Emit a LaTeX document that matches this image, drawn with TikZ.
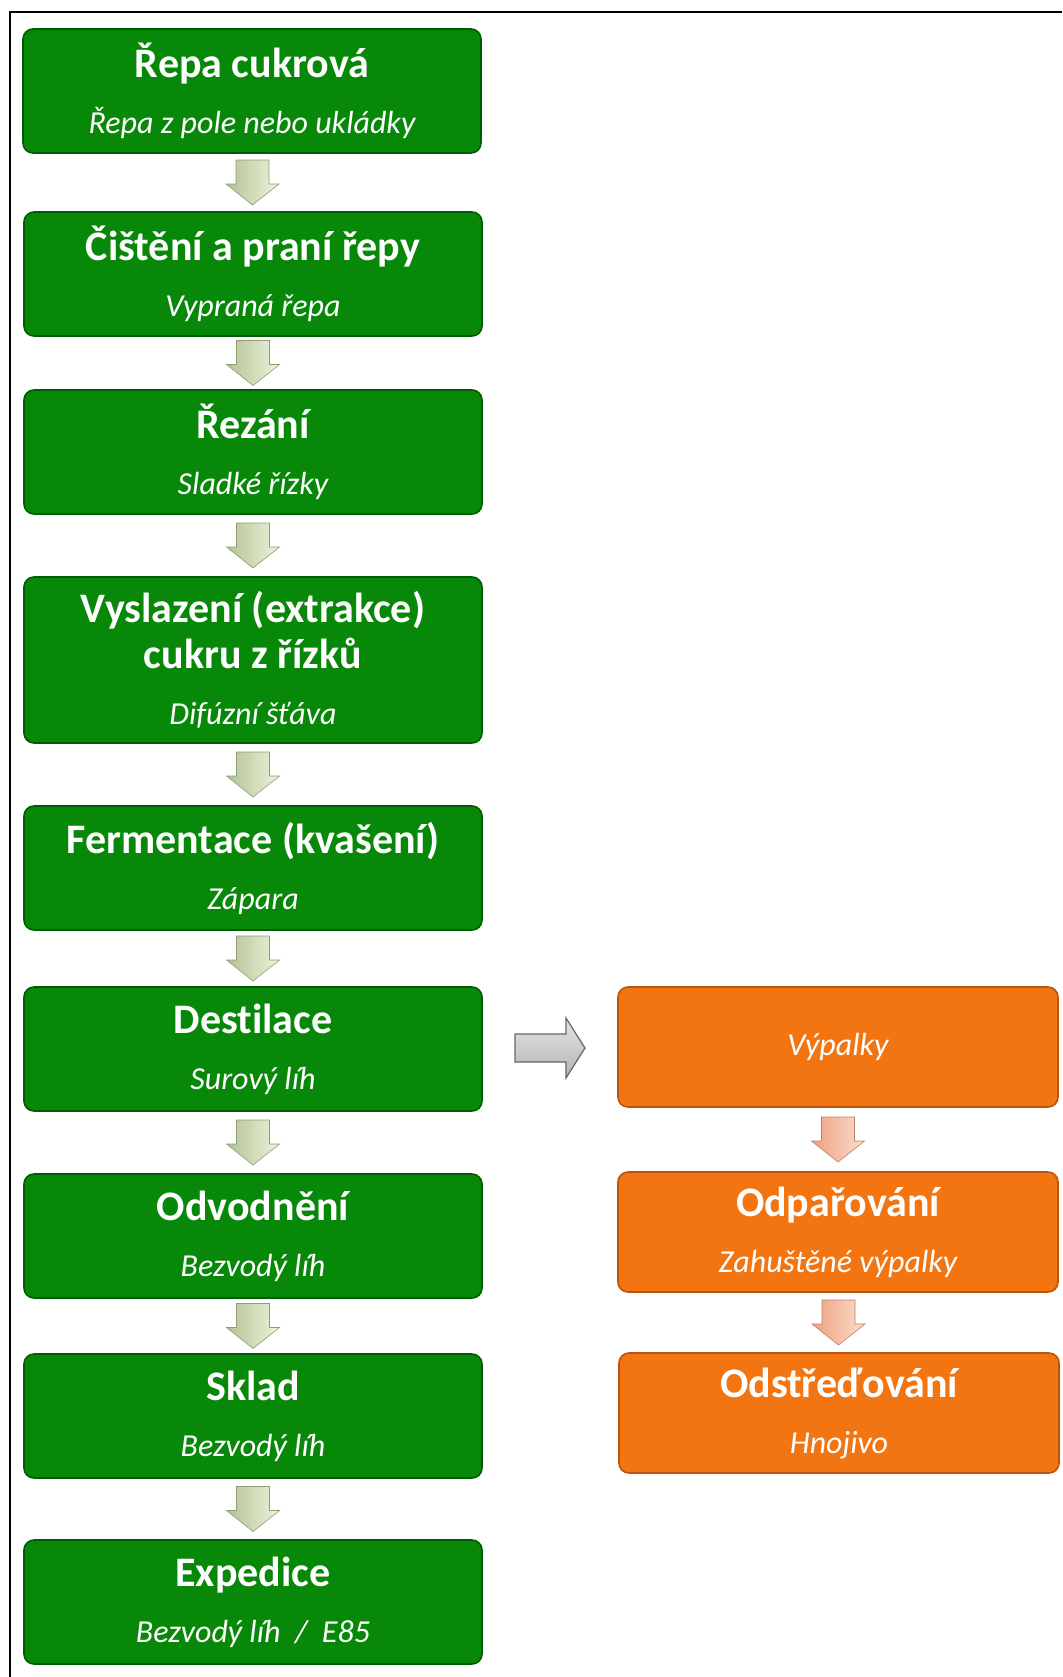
\documentclass[tikz,border=0pt]{standalone}
\usepackage{fontspec}
\setmainfont{Carlito}[Ligatures=NoCommon]
\usetikzlibrary{calc}

\definecolor{boxgreen}{RGB}{8,136,8}
\definecolor{boxgreenedge}{RGB}{0,92,0}
\definecolor{boxorange}{RGB}{242,117,17}
\definecolor{boxorangeedge}{RGB}{185,85,15}
\definecolor{arrgreenL}{RGB}{178,194,148}
\definecolor{arrgreenR}{RGB}{238,244,220}
\definecolor{arrorangeL}{RGB}{236,160,128}
\definecolor{arrorangeR}{RGB}{253,222,204}

\newcommand{\ttl}[1]{{\fontsize{21}{24}\selectfont\bfseries #1}}
\newcommand{\sub}[1]{{\itshape #1}}

\tikzset{
    stagebox/.style={rectangle, rounded corners=5pt, line width=0.8pt, text=white,
        align=center, minimum width=229pt, font=\fontsize{16}{28}\selectfont},
    greenbox/.style={stagebox, fill=boxgreen, draw=boxgreenedge},
    orangebox/.style={stagebox, fill=boxorange, draw=boxorangeedge, minimum width=220pt},
    downarrow/.pic={\path[pic actions] (-16.5,-22.5) -- (16.5,-22.5) -- (16.5,1.5) -- (26.5,1.5)
        -- (0,22.5) -- (-26.5,1.5) -- (-16.5,1.5) -- cycle;},
    rightarrow/.pic={\path[pic actions] (-35,-14) -- (16,-14) -- (16,-30) -- (35,0)
        -- (16,30) -- (16,14) -- (-35,14) -- cycle;},
    greenarrow/.style={left color=arrgreenL, right color=arrgreenR, draw=arrgreenL!80!black, line width=0.3pt},
    orangearrow/.style={left color=arrorangeL, right color=arrorangeR, draw=arrorangeL!80!black, line width=0.3pt},
    grayarrow/.style={top color=gray!20, bottom color=gray!60, draw=gray!80!black, line width=0.6pt}
}

\begin{document}
\begin{tikzpicture}[x=0.5pt, y=-0.5pt]
    \useasboundingbox (0,0) rectangle (1062,1677);
    % frame
    \draw[line width=1pt] (10,1677) -- (10,12) -- (1062,12);

    % main line
    \node[greenbox, minimum height=62pt] (b1) at (252,91) {\ttl{Řepa cukrová}\\ \sub{Řepa z pole nebo ukládky}};
    \node[greenbox, minimum height=62pt] (b2) at (253,274) {\ttl{Čištění a praní řepy}\\ \sub{Vypraná řepa}};
    \node[greenbox, minimum height=62pt] (b3) at (253,452) {\ttl{Řezání}\\ \sub{Sladké řízky}};
    \node[greenbox, minimum height=83pt] (b4) at (253,660) {\ttl{Vyslazení (extrakce)}\\[-5pt] \ttl{cukru z řízků}\\ \sub{Difúzní šťáva}};
    \node[greenbox, minimum height=62pt] (b5) at (253,868) {\ttl{Fermentace (kvašení)}\\ \sub{Zápara}};
    \node[greenbox, minimum height=62pt] (b6) at (253,1049) {\ttl{Destilace}\\ \sub{Surový líh}};
    \node[greenbox, minimum height=62pt] (b7) at (253,1236) {\ttl{Odvodnění}\\ \sub{Bezvodý líh}};
    \node[greenbox, minimum height=62pt] (b8) at (253,1416) {\ttl{Sklad}\\ \sub{Bezvodý líh}};
    \node[greenbox, minimum height=62pt] (b9) at (253,1602) {\ttl{Expedice}\\ \sub{Bezvodý líh \ / \ E85}};

    % side line
    \node[orangebox, minimum height=60pt] (o1) at (838,1047) {\sub{Výpalky}};
    \node[orangebox, minimum height=60pt] (o2) at (838,1232) {\ttl{Odpařování}\\ \sub{Zahuštěné výpalky}};
    \node[orangebox, minimum height=60pt] (o3) at (839,1413) {\ttl{Odstřeďování}\\ \sub{Hnojivo}};

    % arrows
    \foreach \a/\b in {b1/b2, b2/b3, b3/b4, b4/b5, b5/b6, b6/b7, b7/b8, b8/b9}
        \pic[greenarrow] at ($(\a.south)!0.5!(\b.north)$) {downarrow};
    \foreach \a/\b in {o1/o2, o2/o3}
        \pic[orangearrow] at ($(\a.south)!0.5!(\b.north)$) {downarrow};
    \pic[grayarrow] at ($(b6.east)!0.5!(o1.west)$) {rightarrow};
\end{tikzpicture}
\end{document}
